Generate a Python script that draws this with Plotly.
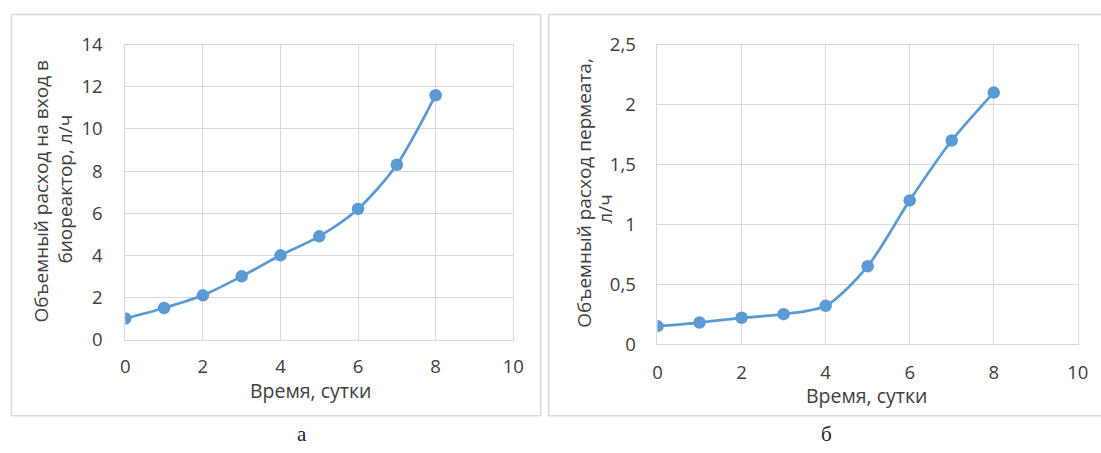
import plotly.graph_objects as go

# Day of experiment
days = [0, 1, 2, 3, 4, 5, 6, 7, 8]
# Feed flow into the bioreactor, L/h
feed_flow = [1.0, 1.5, 2.1, 3.0, 4.0, 4.9, 6.2, 8.3, 11.6]
# Permeate flow, L/h
permeate_flow = [0.15, 0.18, 0.22, 0.25, 0.32, 0.65, 1.2, 1.7, 2.1]

x_ticks = [0, 2, 4, 6, 8, 10]
x_tick_text = ["0", "2", "4", "6", "8", "10"]
y1_ticks = [0, 2, 4, 6, 8, 10, 12, 14]
y1_tick_text = ["0", "2", "4", "6", "8", "10", "12", "14"]
y2_ticks = [0, 0.5, 1, 1.5, 2, 2.5]
y2_tick_text = ["0", "0,5", "1", "1,5", "2", "2,5"]

W, H = 1101, 458
BLUE = "#5B9BD5"
GRID = "#D9D9D9"
TXT = "#404040"
FONT = "Open Sans"

# Layout positions are given in screen pixels; these factors convert
# them to figure pixels (page offset and scale of the rendered page).
SX, OX = 0.987, 3.5
SY, OY = 0.947, 12.6


def px_x(p):
    return ((p - OX) / SX) / W


def px_y(p):
    return 1 - ((p - OY) / SY) / H


fig = go.Figure()

line_style = dict(color=BLUE, width=2.75, shape="spline", smoothing=0.8)
marker_style = dict(color=BLUE, size=12.5)

fig.add_trace(go.Scatter(x=days, y=feed_flow, mode="lines+markers",
                         line=line_style, marker=marker_style,
                         xaxis="x", yaxis="y", showlegend=False))
fig.add_trace(go.Scatter(x=days, y=permeate_flow, mode="lines+markers",
                         line=line_style, marker=marker_style,
                         xaxis="x2", yaxis="y2", showlegend=False))

axis_common = dict(showgrid=True, gridcolor=GRID, gridwidth=1,
                   zeroline=False, showline=True, linecolor=GRID,
                   linewidth=1, mirror=True, ticks="",
                   tickfont=dict(family=FONT, size=18.5, color=TXT))

fig.update_layout(
    width=W, height=H,
    margin=dict(l=0, r=0, t=0, b=0),
    paper_bgcolor="white", plot_bgcolor="white",
    xaxis=dict(domain=[px_x(124), px_x(512.5)], range=[0, 10],
               tickvals=x_ticks, ticktext=x_tick_text, anchor="y",
               ticklabelstandoff=10, **axis_common),
    yaxis=dict(domain=[px_y(338.7), px_y(43.3)], range=[0, 14],
               tickvals=y1_ticks, ticktext=y1_tick_text, anchor="x",
               ticklabelstandoff=18, **axis_common),
    xaxis2=dict(domain=[px_x(657), px_x(1078)], range=[0, 10],
                tickvals=x_ticks, ticktext=x_tick_text, anchor="y2",
                ticklabelstandoff=12, **axis_common),
    yaxis2=dict(domain=[px_y(343.3), px_y(43.3)], range=[0, 2.5],
                tickvals=y2_ticks, ticktext=y2_tick_text, anchor="x2",
                ticklabelstandoff=17, **axis_common),
)

# Chart-area frames
fig.add_shape(type="rect", xref="paper", yref="paper",
              x0=px_x(10), x1=px_x(540), y0=px_y(415), y1=px_y(13),
              line=dict(color=GRID, width=1.5), fillcolor="rgba(0,0,0,0)",
              layer="below")
fig.add_shape(type="rect", xref="paper", yref="paper",
              x0=px_x(548), x1=px_x(1130), y0=px_y(415), y1=px_y(13),
              line=dict(color=GRID, width=1.5), fillcolor="rgba(0,0,0,0)",
              layer="below")


def label(text, x, y, size=19, angle=0, family=FONT, color=TXT):
    fig.add_annotation(text=text, x=px_x(x), y=px_y(y), xref="paper",
                       yref="paper", showarrow=False, textangle=angle,
                       xanchor="center", yanchor="middle",
                       font=dict(family=family, size=size, color=color))


# Axis titles
label("Время, сутки", 309, 390, size=19.5)
label("Время, сутки", 866, 395, size=19.5)
label("Объемный расход на вход в", 40, 190, angle=-90)
label("биореактор, л/ч", 64, 188, angle=-90)
label("Объемный расход пермеата,", 583, 192, angle=-90)
label("л/ч", 605, 208, angle=-90)

# Panel captions, resting on the bottom edge of the figure
for cap, cx in [("а", 301), ("б", 826)]:
    fig.add_annotation(text=cap, x=px_x(cx), y=0, xref="paper",
                       yref="paper", showarrow=False, xanchor="center",
                       yanchor="bottom", borderpad=0,
                       font=dict(family="Liberation Serif", size=21,
                                 color="#222222"))

fig.write_html("out.html")
